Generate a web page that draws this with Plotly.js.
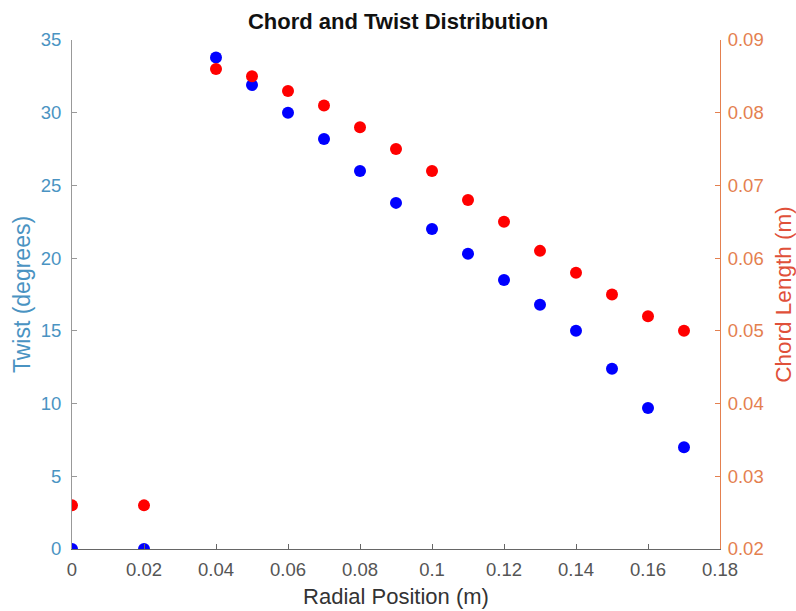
<!DOCTYPE html>
<html>
<head>
<meta charset="utf-8">
<script src="https://cdn.plot.ly/plotly-3.0.1.min.js"></script>
<style>html,body{margin:0;padding:0;background:#fff;}#chart{width:796px;height:611px;}</style>
</head>
<body>
<div id="chart"></div>
<script>
const radialPos = [0, 0.02, 0.04, 0.05, 0.06, 0.07, 0.08, 0.09, 0.10, 0.11, 0.12, 0.13, 0.14, 0.15, 0.16, 0.17];
const twistDeg = [0, 0, 33.8, 31.9, 30.0, 28.2, 26.0, 23.8, 22.0, 20.3, 18.5, 16.8, 15.0, 12.4, 9.7, 7.0];
const chordLen = [0.026, 0.026, 0.086, 0.085, 0.083, 0.081, 0.078, 0.075, 0.072, 0.068, 0.065, 0.061, 0.058, 0.055, 0.052, 0.050];
const xTicks = [0, 0.02, 0.04, 0.06, 0.08, 0.1, 0.12, 0.14, 0.16, 0.18];

const font = 'Liberation Sans, Arial, sans-serif';
const leftColor = '#4a93c2';
const rightColor = '#e4804f';
const tickSize = 18.5;

const traces = [
  {x: radialPos, y: twistDeg, type: 'scatter', mode: 'markers', yaxis: 'y',
   marker: {color: '#0000ff', size: 12}, cliponaxis: true, showlegend: false},
  {x: radialPos, y: chordLen, type: 'scatter', mode: 'markers', yaxis: 'y2',
   marker: {color: '#ff0000', size: 12}, cliponaxis: true, showlegend: false}
];

const layout = {
  width: 796, height: 611,
  margin: {l: 72, r: 76, t: 40, b: 62},
  paper_bgcolor: '#fff', plot_bgcolor: '#fff',
  font: {family: font, size: tickSize, color: '#555'},
  title: {text: '<b>Chord and Twist Distribution</b>', x: 0.5, xanchor: 'center', y: 0.965, yanchor: 'middle',
          font: {family: font, size: 22, color: '#111'}},
  xaxis: {range: [0, 0.18], tickvals: xTicks, ticktext: xTicks.map(String),
          showgrid: false, zeroline: false, showline: true, linecolor: '#666', linewidth: 1,
          ticks: 'inside', ticklen: 5, tickcolor: '#666', ticklabelstandoff: 4,
          tickfont: {family: font, size: tickSize, color: '#555'},
          title: {text: 'Radial Position (m)', font: {family: font, size: 22, color: '#333'}, standoff: 9}},
  yaxis: {range: [0, 35], dtick: 5, showgrid: false, zeroline: false, showline: true,
          linecolor: '#999', linewidth: 1, ticks: 'inside', ticklen: 5, tickcolor: '#999',
          ticklabelstandoff: 6,
          tickfont: {family: font, size: tickSize, color: leftColor},
          title: {text: 'Twist (degrees)', font: {family: font, size: 23, color: leftColor}, standoff: 3}},
  yaxis2: {range: [0.02, 0.09], dtick: 0.01, tickformat: '.2f', overlaying: 'y', side: 'right',
           showgrid: false, zeroline: false, showline: true, linecolor: rightColor, linewidth: 1,
           ticks: 'inside', ticklen: 5, tickcolor: rightColor, ticklabelstandoff: 3,
           tickfont: {family: font, size: tickSize, color: rightColor},
           title: {text: 'Chord Length (m)', font: {family: font, size: 22.5, color: '#e0503a'}, standoff: 12}}
};

Plotly.newPlot('chart', traces, layout, {displayModeBar: false, staticPlot: true});
</script>
</body>
</html>
